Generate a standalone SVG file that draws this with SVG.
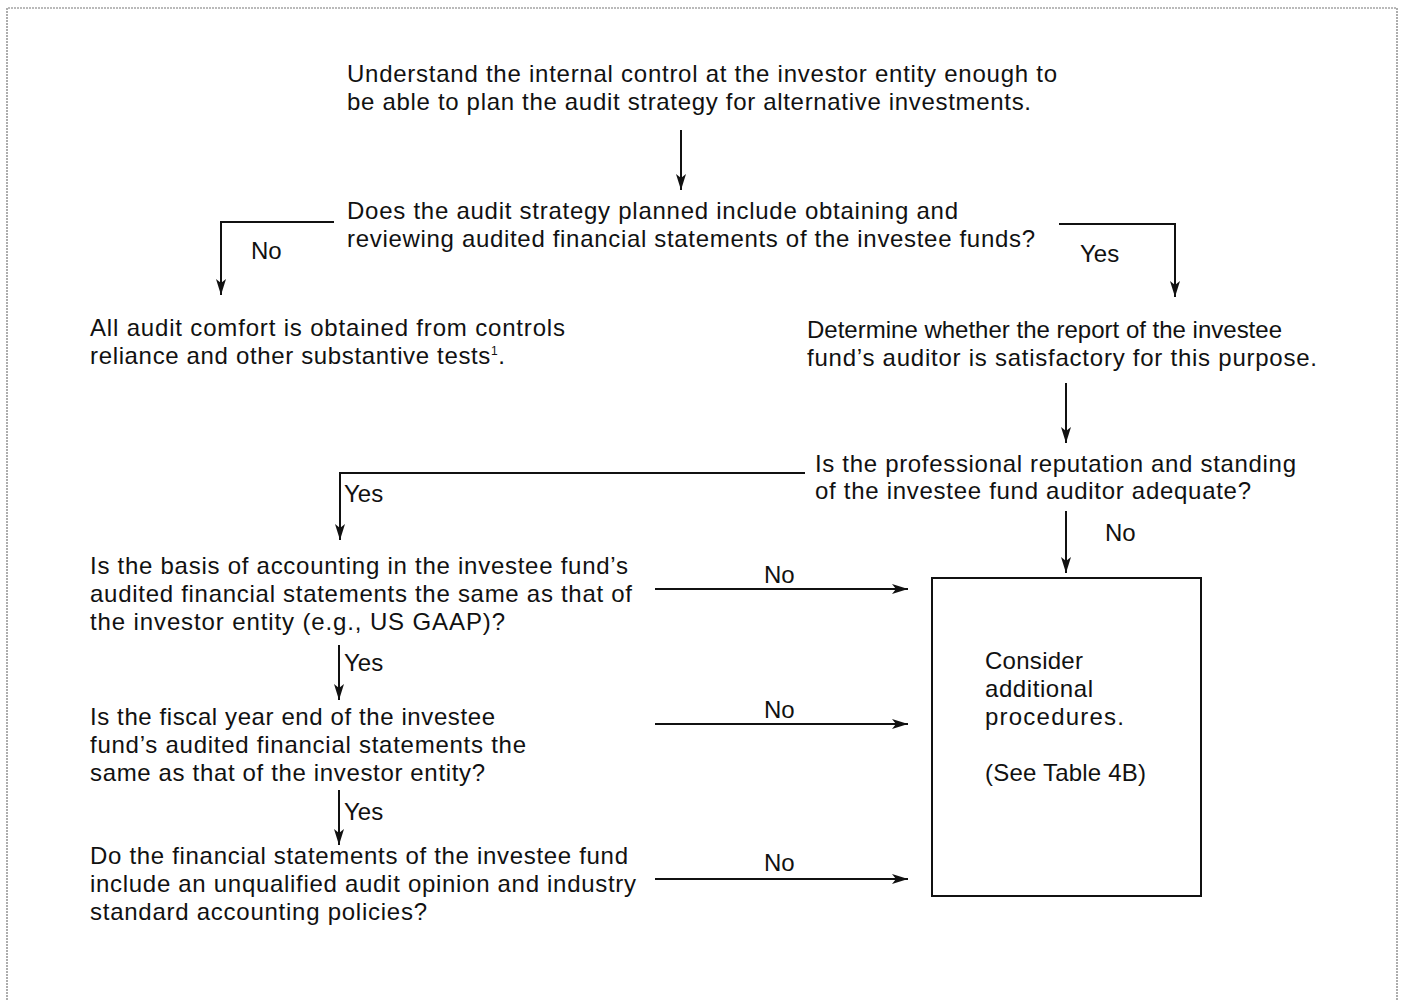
<svg xmlns="http://www.w3.org/2000/svg" width="1401" height="1000" viewBox="0 0 1401 1000">
<style>
text{font-family:"Liberation Sans",Arial,sans-serif;font-size:24px;fill:#111}
.c{stroke:#111;stroke-width:2;fill:none}
.f{stroke:#777;stroke-width:1.2;fill:none;stroke-dasharray:2 1}
</style>
<defs>
<marker id="ah" viewBox="0 0 16 10" refX="16" refY="5" markerWidth="16" markerHeight="10" markerUnits="userSpaceOnUse" orient="auto">
<path d="M0,0 L16,5 L0,10 L4,5 Z" fill="#111"/>
</marker>
</defs>
<rect width="1401" height="1000" fill="#fff"/>
<path class="f" d="M7,1000 V8 H1397 V1000"/>
<g id="n-understand"><text x="347" y="82" textLength="710" lengthAdjust="spacing">Understand the internal control at the investor entity enough to</text><text x="347" y="110" textLength="684" lengthAdjust="spacing">be able to plan the audit strategy for alternative investments.</text></g>
<g id="n-q-strategy"><text x="347" y="219" textLength="611" lengthAdjust="spacing">Does the audit strategy planned include obtaining and</text><text x="347" y="247" textLength="688" lengthAdjust="spacing">reviewing audited financial statements of the investee funds?</text></g>
<g id="n-comfort"><text x="90" y="336" textLength="475" lengthAdjust="spacing">All audit comfort is obtained from controls</text><text x="90" y="364" textLength="415" lengthAdjust="spacing">reliance and other substantive tests<tspan font-size="12" dy="-9">1</tspan><tspan dy="9">.</tspan></text></g>
<g id="n-determine"><text x="807" y="338" textLength="475" lengthAdjust="spacing">Determine whether the report of the investee</text><text x="807" y="366" textLength="510" lengthAdjust="spacing">fund’s auditor is satisfactory for this purpose.</text></g>
<g id="n-q-reputation"><text x="815" y="472" textLength="481" lengthAdjust="spacing">Is the professional reputation and standing</text><text x="815" y="499" textLength="436" lengthAdjust="spacing">of the investee fund auditor adequate?</text></g>
<g id="n-q-basis"><text x="90" y="574" textLength="538" lengthAdjust="spacing">Is the basis of accounting in the investee fund’s</text><text x="90" y="602" textLength="542" lengthAdjust="spacing">audited financial statements the same as that of</text><text x="90" y="630" textLength="415" lengthAdjust="spacing">the investor entity (e.g., US GAAP)?</text></g>
<g id="n-q-fiscal"><text x="90" y="725" textLength="405" lengthAdjust="spacing">Is the fiscal year end of the investee</text><text x="90" y="753" textLength="436" lengthAdjust="spacing">fund’s audited financial statements the</text><text x="90" y="781" textLength="395" lengthAdjust="spacing">same as that of the investor entity?</text></g>
<g id="n-q-opinion"><text x="90" y="864" textLength="538" lengthAdjust="spacing">Do the financial statements of the investee fund</text><text x="90" y="892" textLength="546" lengthAdjust="spacing">include an unqualified audit opinion and industry</text><text x="90" y="920" textLength="337" lengthAdjust="spacing">standard accounting policies?</text></g>
<g id="n-consider"><rect class="c" x="932" y="578" width="269" height="318"/><text x="985" y="669" textLength="98" lengthAdjust="spacing">Consider</text><text x="985" y="697" textLength="108" lengthAdjust="spacing">additional</text><text x="985" y="725" textLength="139" lengthAdjust="spacing">procedures.</text><text x="985" y="781" textLength="161" lengthAdjust="spacing">(See Table 4B)</text></g>
<g id="connectors">
<path class="c" marker-end="url(#ah)" d="M681,130 V190"/>
<path class="c" marker-end="url(#ah)" d="M334,222 H221 V295"/>
<text x="251" y="259">No</text>
<path class="c" marker-end="url(#ah)" d="M1059,224 H1175 V297"/>
<text x="1080" y="262">Yes</text>
<path class="c" marker-end="url(#ah)" d="M1066,383 V443"/>
<path class="c" marker-end="url(#ah)" d="M805,473 H340 V540"/>
<text x="344" y="502">Yes</text>
<path class="c" marker-end="url(#ah)" d="M1066,511 V573"/>
<text x="1105" y="541">No</text>
<path class="c" marker-end="url(#ah)" d="M655,589 H908"/>
<text x="764" y="583">No</text>
<path class="c" marker-end="url(#ah)" d="M339,645 V700"/>
<text x="344" y="671">Yes</text>
<path class="c" marker-end="url(#ah)" d="M655,724 H908"/>
<text x="764" y="718">No</text>
<path class="c" marker-end="url(#ah)" d="M339,790 V845"/>
<text x="344" y="820">Yes</text>
<path class="c" marker-end="url(#ah)" d="M655,879 H908"/>
<text x="764" y="871">No</text>
</g>
</svg>
